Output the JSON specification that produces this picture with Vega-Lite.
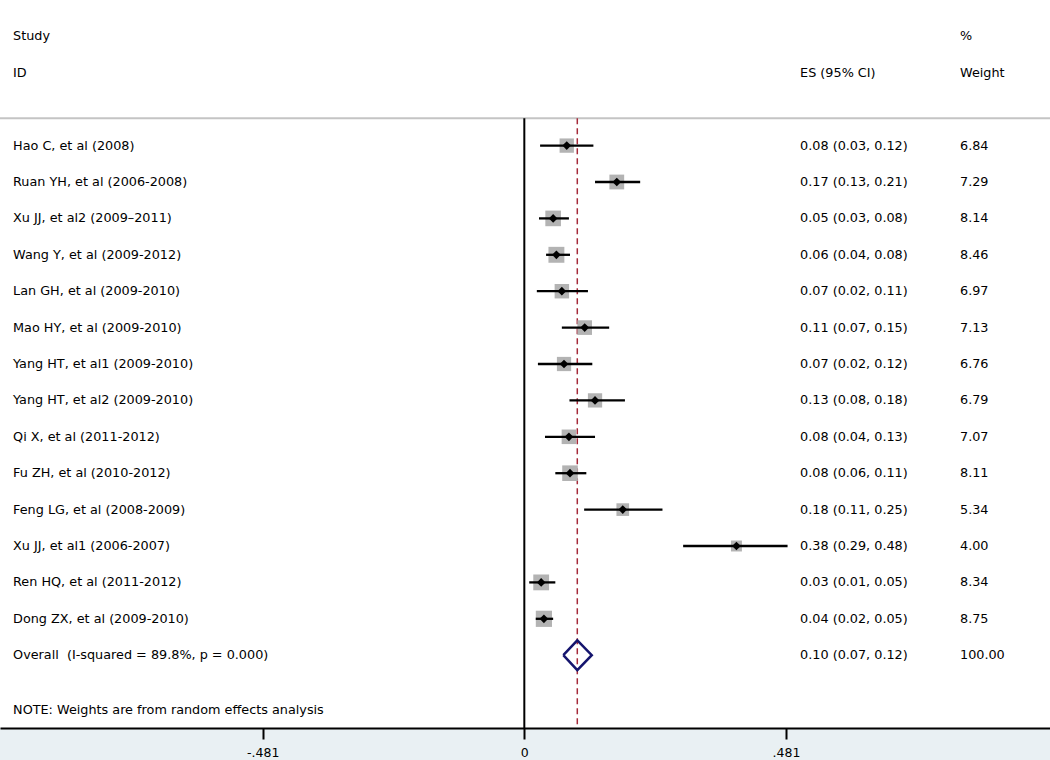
{
  "$schema": "https://vega.github.io/schema/vega-lite/v6.json",
  "width": 1050,
  "height": 728,
  "padding": {"left": 0, "top": 0, "right": 0, "bottom": 32},
  "autosize": {"type": "none"},
  "background": "#e9f0f3",
  "view": {"fill": "white", "stroke": null},
  "config": {"font": "DejaVu Sans"},
  "datasets": {
    "studies": [
      {"study": "Hao C, et al (2008)", "row": 1, "es": 0.078, "lo": 0.029, "hi": 0.127, "w": 6.84, "esText": "0.08 (0.03, 0.12)", "wText": "6.84"},
      {"study": "Ruan YH, et al (2006-2008)", "row": 2, "es": 0.170, "lo": 0.130, "hi": 0.213, "w": 7.29, "esText": "0.17 (0.13, 0.21)", "wText": "7.29"},
      {"study": "Xu JJ, et al2 (2009–2011)", "row": 3, "es": 0.053, "lo": 0.027, "hi": 0.082, "w": 8.14, "esText": "0.05 (0.03, 0.08)", "wText": "8.14"},
      {"study": "Wang Y, et al (2009-2012)", "row": 4, "es": 0.059, "lo": 0.040, "hi": 0.084, "w": 8.46, "esText": "0.06 (0.04, 0.08)", "wText": "8.46"},
      {"study": "Lan GH, et al (2009-2010)", "row": 5, "es": 0.069, "lo": 0.023, "hi": 0.117, "w": 6.97, "esText": "0.07 (0.02, 0.11)", "wText": "6.97"},
      {"study": "Mao HY, et al (2009-2010)", "row": 6, "es": 0.111, "lo": 0.069, "hi": 0.156, "w": 7.13, "esText": "0.11 (0.07, 0.15)", "wText": "7.13"},
      {"study": "Yang HT, et al1 (2009-2010)", "row": 7, "es": 0.073, "lo": 0.025, "hi": 0.125, "w": 6.76, "esText": "0.07 (0.02, 0.12)", "wText": "6.76"},
      {"study": "Yang HT, et al2 (2009-2010)", "row": 8, "es": 0.130, "lo": 0.083, "hi": 0.185, "w": 6.79, "esText": "0.13 (0.08, 0.18)", "wText": "6.79"},
      {"study": "Qi X, et al (2011-2012)", "row": 9, "es": 0.082, "lo": 0.038, "hi": 0.130, "w": 7.07, "esText": "0.08 (0.04, 0.13)", "wText": "7.07"},
      {"study": "Fu ZH, et al (2010-2012)", "row": 10, "es": 0.084, "lo": 0.057, "hi": 0.114, "w": 8.11, "esText": "0.08 (0.06, 0.11)", "wText": "8.11"},
      {"study": "Feng LG, et al (2008-2009)", "row": 11, "es": 0.181, "lo": 0.110, "hi": 0.254, "w": 5.34, "esText": "0.18 (0.11, 0.25)", "wText": "5.34"},
      {"study": "Xu JJ, et al1 (2006-2007)", "row": 12, "es": 0.390, "lo": 0.292, "hi": 0.484, "w": 4.00, "esText": "0.38 (0.29, 0.48)", "wText": "4.00"},
      {"study": "Ren HQ, et al (2011-2012)", "row": 13, "es": 0.031, "lo": 0.009, "hi": 0.057, "w": 8.34, "esText": "0.03 (0.01, 0.05)", "wText": "8.34"},
      {"study": "Dong ZX, et al (2009-2010)", "row": 14, "es": 0.036, "lo": 0.021, "hi": 0.053, "w": 8.75, "esText": "0.04 (0.02, 0.05)", "wText": "8.75"},
      {"study": "Overall\u00a0 (I-squared = 89.8%, p = 0.000)", "row": 15, "es": null, "lo": null, "hi": null, "w": null, "esText": "0.10 (0.07, 0.12)", "wText": "100.00"}
    ],
    "headers": [
      {"label": "Study", "col": -0.940, "row": -2},
      {"label": "ID", "col": -0.940, "row": -1},
      {"label": "ES (95% CI)", "col": 0.507, "row": -1},
      {"label": "%", "col": 0.801, "row": -2},
      {"label": "Weight", "col": 0.801, "row": -1},
      {"label": "NOTE: Weights are from random effects analysis", "col": -0.940, "row": 16.5}
    ],
    "diamond": [
      {"ord": 1, "x": 0.0717, "y": 15},
      {"ord": 2, "x": 0.0974, "y": 14.59},
      {"ord": 3, "x": 0.124, "y": 15},
      {"ord": 4, "x": 0.0974, "y": 15.41},
      {"ord": 5, "x": 0.0717, "y": 15}
    ],
    "vlines": [
      {"x": 0, "y": 0.25, "y2": 17, "kind": "null"},
      {"x": 0.0974, "y": 0.25, "y2": 17, "kind": "overall"}
    ],
    "sep": [{"x": -0.9640, "x2": 0.9665, "y": 0.25}]
  },
  "layer": [
    {
      "data": {"name": "sep"},
      "mark": {"type": "rule", "color": "#c4c4c4", "strokeWidth": 2},
      "encoding": {
        "x": {"field": "x", "type": "quantitative", "scale": {"domain": [-0.9640, 0.9665], "nice": false, "zero": false},
          "axis": {"values": [-0.481, 0, 0.481], "labelExpr": "datum.value == 0 ? '0' : (datum.value < 0 ? '-.481' : '.481')", "grid": false, "domainColor": "#000000", "domainWidth": 2, "tickColor": "#000000", "tickWidth": 2, "tickSize": 11, "labelFontSize": 12.5, "labelColor": "#000000", "labelPadding": 7, "labelFont": "DejaVu Sans", "title": null, "labelFlush": false}},
        "x2": {"field": "x2"},
        "y": {"field": "y", "type": "quantitative", "scale": {"domain": [-3, 17], "reverse": true, "nice": false, "zero": false}, "axis": null}
      }
    },
    {
      "data": {"name": "vlines"},
      "transform": [{"filter": "datum.kind == 'null'"}],
      "mark": {"type": "rule", "color": "#000000", "strokeWidth": 2},
      "encoding": {
        "x": {"field": "x", "type": "quantitative"},
        "y": {"field": "y", "type": "quantitative"},
        "y2": {"field": "y2"}
      }
    },
    {
      "data": {"name": "vlines"},
      "transform": [{"filter": "datum.kind == 'overall'"}],
      "mark": {"type": "rule", "color": "#a52a3a", "strokeWidth": 1.5, "strokeDash": [6, 4]},
      "encoding": {
        "x": {"field": "x", "type": "quantitative"},
        "y": {"field": "y", "type": "quantitative"},
        "y2": {"field": "y2"}
      }
    },
    {
      "data": {"name": "studies"},
      "transform": [{"filter": "datum.w != null"}],
      "mark": {"type": "square", "color": "#b3b3b3", "opacity": 1, "filled": true},
      "encoding": {
        "x": {"field": "es", "type": "quantitative"},
        "y": {"field": "row", "type": "quantitative"},
        "size": {"field": "w", "type": "quantitative", "scale": {"domain": [0, 10], "range": [0, 300]}, "legend": null}
      }
    },
    {
      "data": {"name": "studies"},
      "transform": [{"filter": "datum.w != null"}],
      "mark": {"type": "rule", "color": "#000000", "strokeWidth": 2.3},
      "encoding": {
        "x": {"field": "lo", "type": "quantitative"},
        "x2": {"field": "hi"},
        "y": {"field": "row", "type": "quantitative"}
      }
    },
    {
      "data": {"name": "studies"},
      "transform": [{"filter": "datum.w != null"}],
      "mark": {"type": "point", "shape": "diamond", "filled": true, "color": "#000000", "size": 75, "opacity": 1},
      "encoding": {
        "x": {"field": "es", "type": "quantitative"},
        "y": {"field": "row", "type": "quantitative"}
      }
    },
    {
      "data": {"name": "diamond"},
      "mark": {"type": "line", "color": "#15156e", "strokeWidth": 2.5},
      "encoding": {
        "x": {"field": "x", "type": "quantitative"},
        "y": {"field": "y", "type": "quantitative"},
        "order": {"field": "ord"}
      }
    },
    {
      "data": {"name": "studies"},
      "transform": [{"calculate": "-0.940", "as": "col"}],
      "mark": {"type": "text", "align": "left", "baseline": "middle", "fontSize": 12.8, "color": "#000000"},
      "encoding": {
        "x": {"field": "col", "type": "quantitative"},
        "y": {"field": "row", "type": "quantitative"},
        "text": {"field": "study"}
      }
    },
    {
      "data": {"name": "studies"},
      "transform": [{"calculate": "0.507", "as": "col"}],
      "mark": {"type": "text", "align": "left", "baseline": "middle", "fontSize": 12.8, "color": "#000000"},
      "encoding": {
        "x": {"field": "col", "type": "quantitative"},
        "y": {"field": "row", "type": "quantitative"},
        "text": {"field": "esText"}
      }
    },
    {
      "data": {"name": "studies"},
      "transform": [{"calculate": "0.801", "as": "col"}],
      "mark": {"type": "text", "align": "left", "baseline": "middle", "fontSize": 12.8, "color": "#000000"},
      "encoding": {
        "x": {"field": "col", "type": "quantitative"},
        "y": {"field": "row", "type": "quantitative"},
        "text": {"field": "wText"}
      }
    },
    {
      "data": {"name": "headers"},
      "mark": {"type": "text", "align": "left", "baseline": "middle", "fontSize": 12.8, "color": "#000000"},
      "encoding": {
        "x": {"field": "col", "type": "quantitative"},
        "y": {"field": "row", "type": "quantitative"},
        "text": {"field": "label"}
      }
    }
  ]
}
